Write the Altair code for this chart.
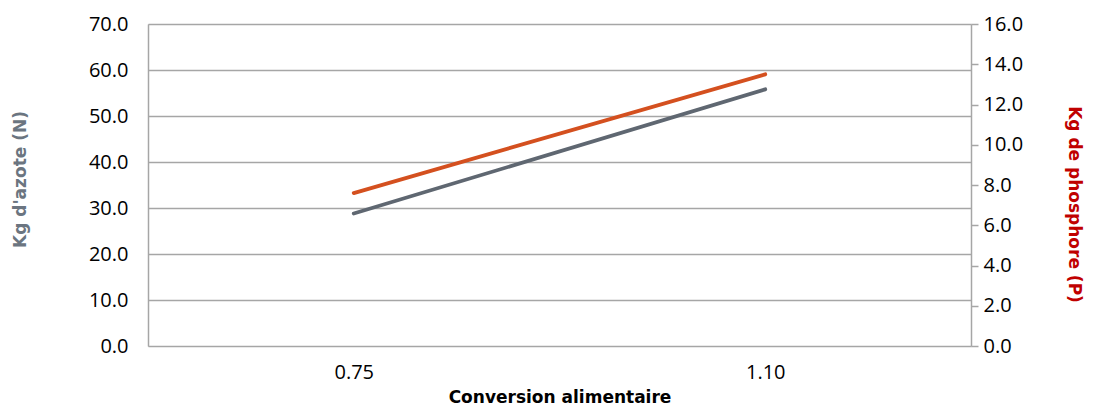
import altair as alt
import pandas as pd

categories = ["0.75", "1.10"]
azote = [28.8, 55.8]
phosphore = [7.6, 13.5]

df = pd.DataFrame({"conv": categories, "N": azote, "P": phosphore})

FONT = "Open Sans"
TFONT = "DejaVu Sans"
x_enc = alt.X("conv:N", sort=categories,
              scale=alt.Scale(type="point", padding=0.5),
              axis=alt.Axis(title="Conversion alimentaire", labelAngle=0,
                            labelFontSize=20, labelColor="#000000",
                            titleFont=TFONT, titleFontSize=17, titleFontWeight="bold",
                            titleColor="#000000",
                            titleY=56, titleBaseline="alphabetic",
                            domain=False, ticks=False, labelPadding=16,
                            grid=False))

base = alt.Chart(df)

n_line = base.mark_line(color="#5f6771", strokeWidth=3.8, strokeCap="round").encode(
    x=x_enc,
    y=alt.Y("N:Q", scale=alt.Scale(domain=[0, 70]),
            axis=alt.Axis(title="Kg d'azote (N)", values=[0, 10, 20, 30, 40, 50, 60, 70],
                          format=".1f", labelFontSize=20, labelColor="#000000",
                          labelPadding=20, ticks=False, domain=True,
                          domainColor="#a6a6a6", domainWidth=1.5,
                          grid=True, gridColor="#a6a6a6", gridWidth=1.5,
                          titleFont=TFONT, titleFontSize=17, titleFontWeight="bold",
                          titleColor="#6b7580",
                          titleX=-128, titleY=155, titleBaseline="middle")),
)

p_line = base.mark_line(color="#d4501f", strokeWidth=3.8, strokeCap="round").encode(
    x=x_enc,
    y=alt.Y("P:Q", scale=alt.Scale(domain=[0, 16]),
            axis=alt.Axis(title="Kg de phosphore (P)", orient="right",
                          values=[0, 2, 4, 6, 8, 10, 12, 14, 16],
                          format=".1f", labelFontSize=20, labelColor="#000000",
                          labelPadding=5, ticks=True, tickSize=7, tickColor="#a6a6a6",
                          tickWidth=1.5, domain=True, domainColor="#a6a6a6", domainWidth=1.5,
                          grid=False,
                          titleFont=TFONT, titleFontSize=17, titleFontWeight="bold",
                          titleColor="#c00000",
                          titleX=102, titleY=180, titleBaseline="middle", titleAngle=90)),
)

chart = alt.layer(n_line, p_line).resolve_scale(y="independent").properties(
    width=823, height=322,
    autosize=alt.AutoSizeParams(type="none"),
    padding={"left": 140, "top": 16, "right": 114, "bottom": 61},
).configure_view(stroke=None).configure(font=FONT)

chart.save("out.html", embed_options={"renderer": "svg", "actions": False})
